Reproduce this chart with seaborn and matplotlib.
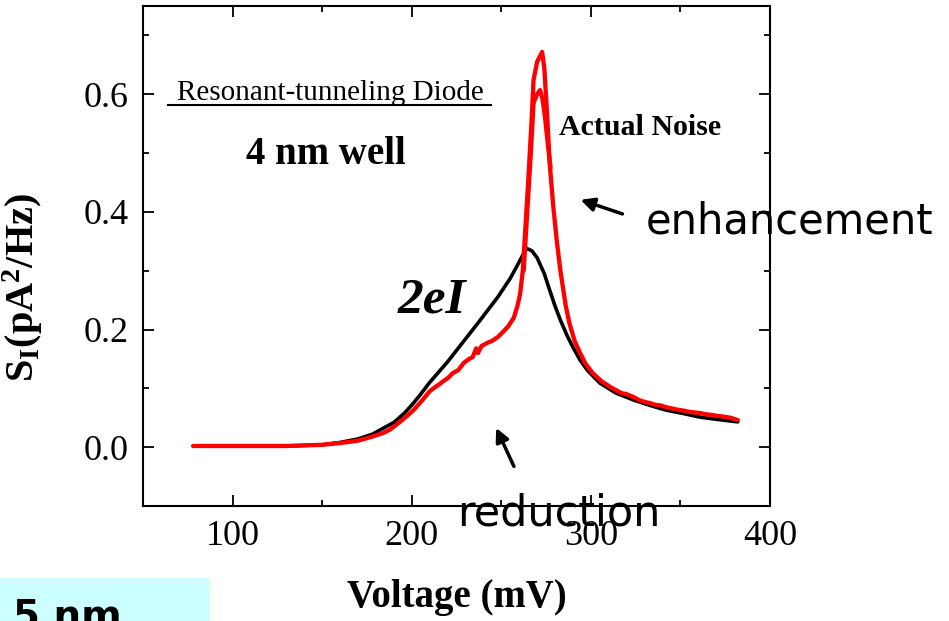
import numpy as np
import pandas as pd
import seaborn as sns
import matplotlib
matplotlib.use("Agg")
import matplotlib.pyplot as plt
from matplotlib.patches import Rectangle
from matplotlib.ticker import MultipleLocator

# ---------------- data ----------------
x_2ei = [78, 100, 130, 150, 160, 170, 178, 184, 190, 196, 201, 205, 210, 220, 229, 238,
         248, 255, 260, 264, 267, 270, 274, 277, 280, 283, 287, 290, 294, 298, 305, 314,
         324, 333, 342, 352, 361, 371, 382]
y_2ei = [0.002, 0.002, 0.002, 0.004, 0.008, 0.014, 0.022, 0.032, 0.042, 0.058, 0.075, 0.090,
         0.110, 0.145, 0.180, 0.215, 0.255, 0.287, 0.315, 0.338, 0.334, 0.322, 0.295, 0.267,
         0.240, 0.216, 0.188, 0.170, 0.148, 0.131, 0.109, 0.092, 0.080, 0.071, 0.063, 0.057,
         0.051, 0.047, 0.043]

x_noise = [78, 100, 130, 150, 160, 170, 178, 184, 188, 193, 197, 201, 206, 210, 213, 215,
           218, 220, 223, 226, 229, 232, 234, 236, 237, 239, 242, 245, 248, 251, 254, 257,
           259, 260.5, 262, 263, 265, 267, 268, 270, 272.8, 274, 275.5, 277, 279, 281, 283,
           284.5, 286, 288, 291, 294, 297, 301, 306, 311, 314, 317, 320, 324, 327, 330, 333,
           336, 339, 342, 345, 348, 352, 355, 358, 361, 364, 367, 371, 374, 378, 382]
y_noise = [0.002, 0.002, 0.002, 0.004, 0.007, 0.011, 0.018, 0.024, 0.030, 0.042, 0.052, 0.063,
           0.080, 0.095, 0.102, 0.106, 0.113, 0.117, 0.126, 0.131, 0.143, 0.150, 0.153, 0.168,
           0.160, 0.172, 0.177, 0.181, 0.187, 0.196, 0.206, 0.220, 0.240, 0.260, 0.300, 0.350,
           0.450, 0.560, 0.624, 0.655, 0.672, 0.645, 0.570, 0.483, 0.410, 0.350, 0.300, 0.270,
           0.240, 0.211, 0.180, 0.160, 0.142, 0.126, 0.112, 0.102, 0.097, 0.092, 0.090, 0.085,
           0.080, 0.077, 0.075, 0.072, 0.071, 0.068, 0.066, 0.064, 0.062, 0.060, 0.059, 0.058,
           0.056, 0.055, 0.053, 0.052, 0.050, 0.046]

x_noise2 = [262.5, 264.5, 266.5, 268, 270, 271.6, 273, 274.4, 276, 277.5]
y_noise2 = [0.300, 0.400, 0.500, 0.585, 0.600, 0.607, 0.592, 0.561, 0.515, 0.475]

x_ticks = [100, 200, 300, 400]
y_ticks = [0.0, 0.2, 0.4, 0.6]

# ---------------- style ----------------
sns.set_style("ticks")
plt.rcParams['font.family'] = ['Liberation Serif', 'DejaVu Serif']
plt.rcParams['mathtext.fontset'] = 'custom'
plt.rcParams['mathtext.rm'] = 'Liberation Serif'
plt.rcParams['mathtext.bf'] = 'Liberation Serif:bold'
plt.rcParams['mathtext.it'] = 'Liberation Serif:italic'
for k in ['text.color', 'axes.labelcolor', 'xtick.color', 'ytick.color', 'axes.edgecolor']:
    plt.rcParams[k] = 'black'

fig = plt.figure(figsize=(9.49, 6.21), dpi=100)
ax = fig.add_axes([143/949, 1-506/621, (770-143)/949, 500/621])

df_b = pd.DataFrame({'V': x_2ei, 'S': y_2ei})
df_r = pd.DataFrame({'V': x_noise, 'S': y_noise})
df_r2 = pd.DataFrame({'V': x_noise2, 'S': y_noise2})

sns.lineplot(data=df_b, x='V', y='S', ax=ax, color='black', linewidth=2.6, sort=False, zorder=2)
sns.lineplot(data=df_r, x='V', y='S', ax=ax, color='#ff0000', linewidth=3.1, sort=False, zorder=3)
sns.lineplot(data=df_r2, x='V', y='S', ax=ax, color='#ff0000', linewidth=3.1, sort=False, zorder=3)

ax.set_xlim(50, 400)
ax.set_ylim(-0.1, 0.75)
ax.set_xticks(x_ticks)
ax.set_xticklabels([str(t) for t in x_ticks])
ax.set_yticks(y_ticks)
ax.set_yticklabels([f"{t:.1f}" for t in y_ticks])
ax.xaxis.set_minor_locator(MultipleLocator(50))
ax.yaxis.set_minor_locator(MultipleLocator(0.1))
ax.tick_params(which='both', direction='in', top=True, right=True, width=1.3, color='black')
ax.tick_params(which='major', length=8, labelsize=26, pad=10)
ax.tick_params(which='minor', length=4.5)
for s in ax.spines.values():
    s.set_linewidth(1.5)
    s.set_color('black')

ax.set_xlabel('Voltage (mV)', fontsize=28, fontweight='bold')
ax.xaxis.set_label_coords(0.5, -0.145)
ax.set_ylabel(r'S$_\mathbf{I}$(pA$^\mathbf{2}$/Hz)', fontsize=29, fontweight='bold')
ax.yaxis.set_label_coords((45-143)/627, (506-288)/500)

# annotations
ax.text(154.4, 0.602, 'Resonant-tunneling Diode', fontsize=21, ha='center', va='center')
ax.plot([63.4, 244.8], [0.582, 0.582], color='black', linewidth=1.5, solid_capstyle='butt')
ax.text(152.2, 0.497, '4 nm well', fontsize=28, fontweight='bold', ha='center', va='center')
ax.text(327.4, 0.544, 'Actual Noise', fontsize=21.5, fontweight='bold', ha='center', va='center')
ax.text(211.3, 0.25, '2eI', fontsize=37, fontweight='bold', fontstyle='italic', ha='center', va='center')
ax.text(411, 0.383, 'enhancement', fontsize=30, family='DejaVu Sans', ha='center', va='center', clip_on=False)
ax.text(282.2, -0.112, 'reduction', fontsize=31, family='DejaVu Sans', ha='center', va='center', clip_on=False, zorder=5)
ax.annotate('', xy=(292.8, 0.422), xytext=(319.1, 0.395),
            arrowprops=dict(arrowstyle='-|>', color='black', lw=2.5, mutation_scale=20))
ax.annotate('', xy=(246.5, 0.037), xytext=(257.7, -0.037),
            arrowprops=dict(arrowstyle='-|>', color='black', lw=2.5, mutation_scale=20))

# cyan box bottom-left
fig.patches.append(Rectangle((0, 0), 210/949, 43/621, transform=fig.transFigure,
                             facecolor='#ccffff', edgecolor='none', zorder=0))
fig.text(13/949, 1-598/621, '5 nm', fontsize=28, fontweight='bold', family='DejaVu Sans',
         ha='left', va='top')

fig.savefig('out.png', dpi=100)
